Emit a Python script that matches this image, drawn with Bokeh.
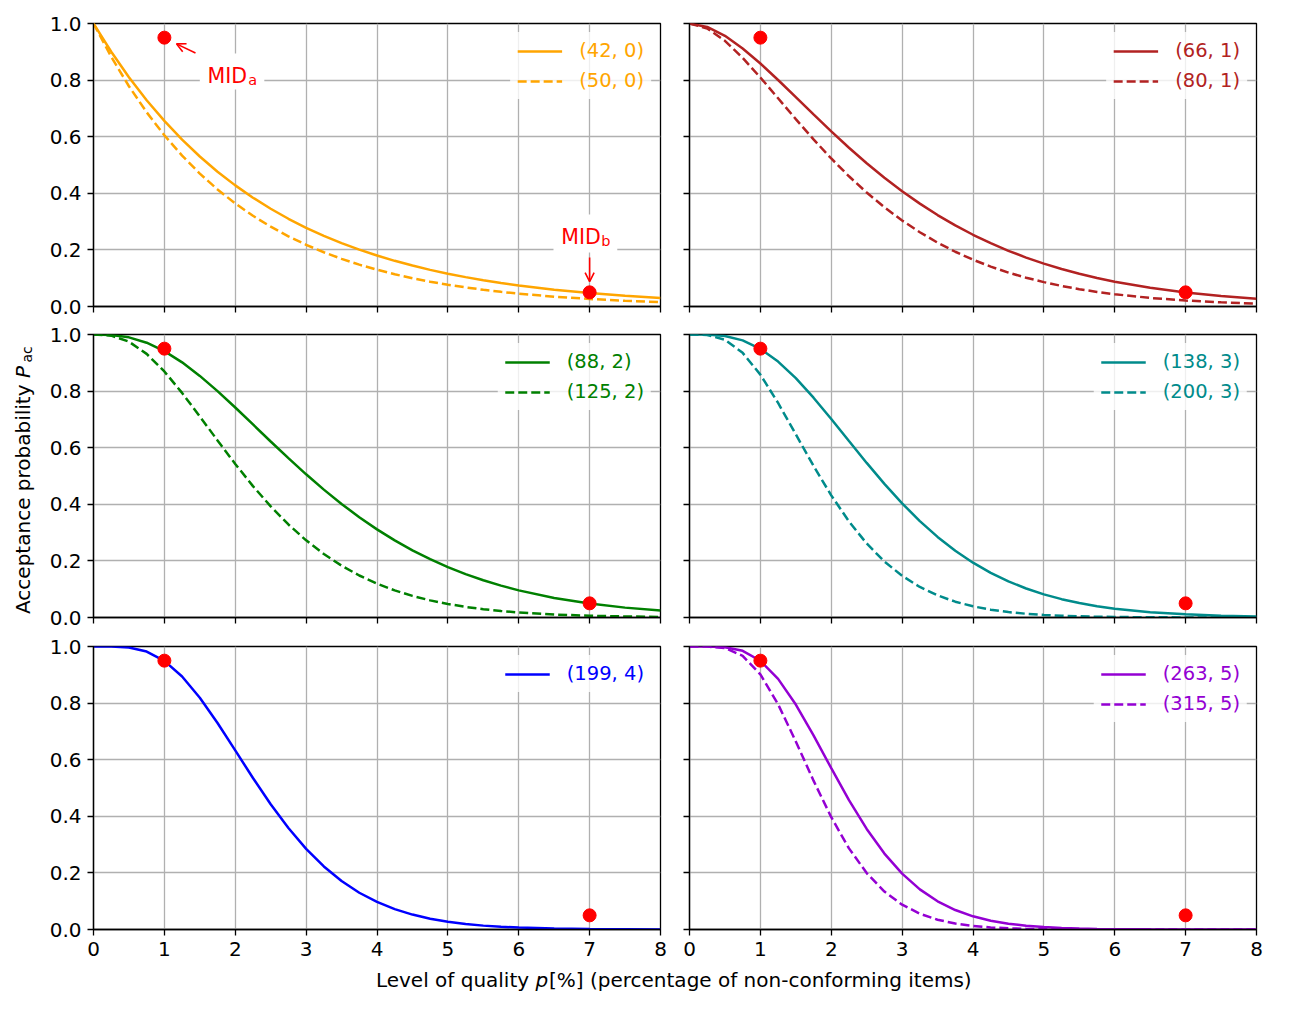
import math
from bokeh.plotting import figure
from bokeh.layouts import column, row
from bokeh.models import (Range1d, FixedTicker, Legend, LegendItem, Label, Arrow,
                          OpenHead, BoxAnnotation, PrintfTickFormatter, CustomLabelingPolicy)
from bokeh.embed import file_html
from bokeh.resources import INLINE

# ---------------- data ----------------
p_pct = [0, 0.25, 0.5, 0.75, 1, 1.25, 1.5, 1.75, 2, 2.25, 2.5, 2.75, 3, 3.25, 3.5, 3.75,
         4, 4.25, 4.5, 4.75, 5, 5.25, 5.5, 5.75, 6, 6.5, 7, 7.5, 8]

oc_42_0 = [1.0, .9002, .8102, .7289, .6557, .5896, .5301, .4764, .4280, .3845, .3453, .3100,
           .2782, .2497, .2239, .2008, .1800, .1614, .1446, .1295, .1160, .1038, .0929, .0831,
           .0744, .0594, .0474, .0378, .0301]
oc_50_0 = [1.0, .8824, .7783, .6863, .6050, .5332, .4697, .4136, .3642, .3205, .2820, .2480,
           .2181, .1917, .1684, .1479, .1299, .1140, .1000, .0878, .0769, .0675, .0591, .0518,
           .0453, .0347, .0266, .0203, .0155]
oc_66_1 = [1.0, .9879, .9565, .9118, .8587, .8003, .7395, .6786, .6187, .5610, .5064, .4552,
           .4075, .3635, .3231, .2866, .2535, .2236, .1968, .1729, .1515, .1325, .1158, .1009,
           .0878, .0662, .0496, .0370, .0275]
oc_80_1 = [1.0, .9826, .9389, .8786, .8092, .7357, .6621, .5906, .5230, .4601, .4026, .3505,
           .3038, .2623, .2256, .1935, .1654, .1410, .1199, .1017, .0861, .0727, .0612, .0515,
           .0433, .0303, .0211, .0146, .0101]
oc_88_2 = [1.0, .9985, .9900, .9711, .9413, .9016, .8537, .7998, .7420, .6822, .6220, .5630,
           .5060, .4519, .4013, .3544, .3115, .2725, .2373, .2059, .1779, .1532, .1315, .1125,
           .0959, .0692, .0494, .0349, .0245]
oc_125_2 = [1.0, .9960, .9747, .9315, .8693, .7937, .7104, .6256, .5425, .4643, .3927, .3288,
            .2727, .2243, .1831, .1484, .1196, .0958, .0763, .0605, .0477, .0375, .0293, .0229,
            .0177, .0106, .0062, .0036, .0021]
oc_138_3 = [1.0, .9996, .9947, .9793, .9494, .9043, .8457, .7767, .7014, .6235, .5462, .4722,
            .4034, .3407, .2848, .2359, .1937, .1578, .1276, .1024, .0817, .0648, .0511, .0401,
            .0313, .0188, .0111, .0064, .0037]
oc_200_3 = [1.0, .9983, .9813, .9351, .8581, .7582, .6472, .5357, .4315, .3394, .2615, .1978,
            .1472, .1079, .0781, .0559, .0395, .0277, .0192, .0132, .0091, .0061, .0041, .0028,
            .0018, .0008, .0003, .0001, .0001]
oc_199_4 = [1.0, .9998, .9965, .9822, .9492, .8941, .8191, .7296, .6328, .5353, .4427, .3586,
            .2850, .2227, .1713, .1299, .0973, .0720, .0527, .0381, .0273, .0194, .0137, .0096,
            .0067, .0032, .0014, .0007, .0003]
oc_263_5 = [1.0, 1.0, .9977, .9848, .9496, .8856, .7949, .6859, .5700, .4573, .3554, .2683,
            .1973, .1418, .0997, .0688, .0466, .0311, .0204, .0132, .0085, .0054, .0034, .0021,
            .0013, .0005, .0002, .0001, .0000]
oc_315_5 = [1.0, .9998, .9946, .9671, .9013, .7959, .6645, .5260, .3968, .2867, .1995, .1342,
            .0877, .0558, .0346, .0211, .0126, .0074, .0042, .0024, .0014, .0008, .0004, .0002,
            .0001, .0000, .0000, .0000, .0000]

mid_x = [1, 7]
mid_y = [0.95, 0.05]

x_ticks = [0, 1, 2, 3, 4, 5, 6, 7, 8]
y_ticks = [0.0, 0.2, 0.4, 0.6, 0.8, 1.0]

panels = [
    ("#FFA500", [("(42, 0)", oc_42_0, "solid"), ("(50, 0)", oc_50_0, "dashed")]),
    ("#B22222", [("(66, 1)", oc_66_1, "solid"), ("(80, 1)", oc_80_1, "dashed")]),
    ("#008000", [("(88, 2)", oc_88_2, "solid"), ("(125, 2)", oc_125_2, "dashed")]),
    ("#008B8B", [("(138, 3)", oc_138_3, "solid"), ("(200, 3)", oc_200_3, "dashed")]),
    ("#0000FF", [("(199, 4)", oc_199_4, "solid")]),
    ("#9400D3", [("(263, 5)", oc_263_5, "solid"), ("(315, 5)", oc_315_5, "dashed")]),
]

FONT = "DejaVu Sans"
FS = "20px"
FW, FH = 567, 283
SPINE = 1.3


def hide_labels(ax):
    ax.major_label_policy = CustomLabelingPolicy(code="return []")
    ax.major_label_text_font_size = "2px"
    ax.major_label_standoff = 0


def make_panel(idx, color, series):
    r_i, c_i = divmod(idx, 2)
    p = figure(frame_width=FW, frame_height=FH,
               x_range=Range1d(0, 8), y_range=Range1d(0, 1),
               output_backend="svg", toolbar_location=None,
               min_border_left=53 if c_i == 0 else 15,
               min_border_right=14 if c_i == 0 else 33,
               min_border_top=[23, 14, 15][r_i],
               min_border_bottom=[14, 14, 38][r_i],
               background_fill_color="white", border_fill_color="white")
    p.outline_line_color = "black"
    p.outline_line_width = SPINE
    p.outline_line_alpha = 1

    p.xaxis.ticker = FixedTicker(ticks=x_ticks)
    p.yaxis.ticker = FixedTicker(ticks=y_ticks)
    p.yaxis.formatter = PrintfTickFormatter(format="%.1f")
    p.xaxis.formatter = PrintfTickFormatter(format="%d")
    for ax in (p.xaxis[0], p.yaxis[0]):
        ax.axis_line_color = "black"
        ax.axis_line_width = SPINE
        ax.major_tick_line_color = "black"
        ax.major_tick_line_width = SPINE
        ax.major_tick_out = 6
        ax.major_tick_in = 0
        ax.minor_tick_out = 0
        ax.minor_tick_in = 0
        ax.major_label_text_font = FONT
        ax.major_label_text_font_size = FS
        ax.major_label_text_color = "black"
        ax.major_label_standoff = 6
    if r_i != 2:
        hide_labels(p.xaxis[0])
    if c_i != 0:
        hide_labels(p.yaxis[0])

    for g in (p.xgrid[0], p.ygrid[0]):
        g.grid_line_color = "#b0b0b0"
        g.grid_line_width = 1.3

    items = []
    for name, vals, style in series:
        assert len(vals) == len(p_pct)
        dash = "solid" if style == "solid" else "9 4"
        r = p.line(p_pct, vals, line_color=color, line_width=2.5, line_dash=dash)
        items.append(LegendItem(label=name, renderers=[r]))

    p.scatter(mid_x, mid_y, size=13, fill_color="red", line_color="red")

    leg = Legend(items=items, location="top_right",
                 border_line_alpha=0, background_fill_color="white",
                 background_fill_alpha=0.8,
                 label_text_color=color, label_text_font=FONT, label_text_font_size="19.5px",
                 glyph_width=45, glyph_height=20, label_height=20,
                 label_standoff=17, spacing=7, padding=7, margin=9)
    p.add_layout(leg)
    return p


figs = [make_panel(i, c, s) for i, (c, s) in enumerate(panels)]

# ---- annotations in the first panel ----
p0 = figs[0]
p0.add_layout(BoxAnnotation(left=1.50, right=2.41, bottom=0.767, top=0.894,
                            fill_color="white", fill_alpha=1, line_alpha=0))
p0.add_layout(BoxAnnotation(left=6.49, right=7.39, bottom=0.191, top=0.325,
                            fill_color="white", fill_alpha=1, line_alpha=0))
p0.add_layout(Label(x=1.608, y=0.816, text="MID", text_color="red", text_font=FONT,
                    text_font_size="20.5px", text_align="left", text_baseline="alphabetic"))
p0.add_layout(Label(x=2.185, y=0.802, text="a", text_color="red", text_font=FONT,
                    text_font_size="14.5px", text_align="left", text_baseline="alphabetic"))
p0.add_layout(Label(x=6.599, y=0.245, text="MID", text_color="red", text_font=FONT,
                    text_font_size="20.5px", text_align="left", text_baseline="alphabetic"))
p0.add_layout(Label(x=7.165, y=0.231, text="b", text_color="red", text_font=FONT,
                    text_font_size="14.5px", text_align="left", text_baseline="alphabetic"))
p0.add_layout(Arrow(x_start=1.439, y_start=0.896, x_end=1.171, y_end=0.928,
                    line_color="red", line_width=1.6,
                    end=OpenHead(size=9, line_color="red", line_width=1.6)))
p0.add_layout(Arrow(x_start=7.0, y_start=0.173, x_end=7.0, y_end=0.088,
                    line_color="red", line_width=1.6,
                    end=OpenHead(size=9, line_color="red", line_width=1.6)))

# ---- shared y label in its own narrow strip ----
YH = 967
yl = figure(width=40, height=YH, x_range=Range1d(0, 40), y_range=Range1d(0, YH),
            output_backend="svg", toolbar_location=None,
            min_border_left=0, min_border_right=0, min_border_top=0, min_border_bottom=0,
            background_fill_color="white", border_fill_color="white")
yl.axis.visible = False
yl.grid.visible = False
yl.outline_line_color = None
yl.add_layout(Label(x=22.0, y=YH - 384, text="Acceptance probability", angle=math.pi / 2,
                    text_font=FONT, text_font_size=FS, text_color="black",
                    text_align="right", text_baseline="alphabetic"))
yl.add_layout(Label(x=22.0, y=YH - 377.5, text="P", angle=math.pi / 2,
                    text_font=FONT, text_font_size=FS, text_font_style="italic",
                    text_color="black", text_align="left", text_baseline="alphabetic"))
yl.add_layout(Label(x=26.0, y=YH - 362, text="ac", angle=math.pi / 2,
                    text_font=FONT, text_font_size="14px", text_color="black",
                    text_align="left", text_baseline="alphabetic"))

# ---- shared x label ----
xl = figure(width=1289, height=43, x_range=Range1d(0, 1289), y_range=Range1d(0, 43),
            output_backend="svg", toolbar_location=None,
            min_border_left=0, min_border_right=0, min_border_top=0, min_border_bottom=0,
            background_fill_color="white", border_fill_color="white")
xl.axis.visible = False
xl.grid.visible = False
xl.outline_line_color = None
x0 = 535
xl.add_layout(Label(x=x0 - 6.4, y=31, text="Level of quality", text_font=FONT,
                    text_font_size=FS, text_color="black", text_align="right",
                    text_baseline="alphabetic"))
xl.add_layout(Label(x=x0, y=31, text="p", text_font=FONT, text_font_size=FS,
                    text_font_style="italic", text_color="black", text_align="left",
                    text_baseline="alphabetic"))
xl.add_layout(Label(x=x0 + 13.5, y=31, text="[%] (percentage of non-conforming items)",
                    text_font=FONT, text_font_size=FS, text_color="black",
                    text_align="left", text_baseline="alphabetic"))

panels_col = column(row(figs[0], figs[1]), row(figs[2], figs[3]), row(figs[4], figs[5]))
layout = column(row(yl, panels_col), xl)

open("out.html", "w").write(file_html(layout, INLINE))
